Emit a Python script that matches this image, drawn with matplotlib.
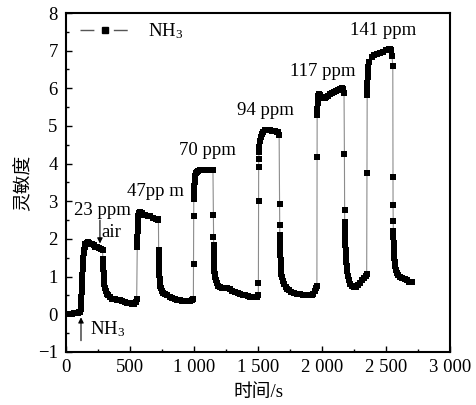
import numpy as np
import matplotlib
matplotlib.use("Agg")
import matplotlib.pyplot as plt
from matplotlib.lines import Line2D
from matplotlib.ticker import MultipleLocator, FixedLocator, FixedFormatter

plt.rcParams['font.family'] = ['Liberation Serif', 'Noto Sans CJK SC']
plt.rcParams['mathtext.fontset'] = 'custom'
plt.rcParams['mathtext.rm'] = 'Liberation Serif'
plt.rcParams['mathtext.default'] = 'regular'

# data: time (s) and sensitivity, one pair of lists per NH3 pulse
t1 = [0, 10, 20, 30, 40, 50, 60, 70, 80, 90, 100, 110,
      115, 117, 119, 121, 123, 125, 127, 129, 131, 134, 137, 140, 145, 150, 160, 170, 180, 190, 200,
      215, 230, 245, 260, 275, 285,
      289, 290, 291, 292, 293, 295, 297, 300, 305, 312, 320, 330, 344, 360, 380, 400,
      422, 440, 460, 480, 500, 513, 525, 535, 545, 552]
s1 = [0.0, 0.0, 0.01, 0.01, 0.02, 0.02, 0.03, 0.03, 0.04, 0.04, 0.05, 0.06,
      0.15, 0.3, 0.45, 0.6, 0.75, 0.9, 1.05, 1.2, 1.35, 1.5, 1.62, 1.72, 1.8, 1.86, 1.9, 1.92, 1.9, 1.88, 1.86,
      1.83, 1.8, 1.78, 1.76, 1.73, 1.7,
      1.46, 1.39, 1.3, 1.2, 1.1, 1.0, 0.9, 0.8, 0.7, 0.62, 0.55, 0.5, 0.46, 0.42, 0.4, 0.38,
      0.37, 0.35, 0.33, 0.31, 0.29, 0.28, 0.27, 0.28, 0.32, 0.42]

t2 = [556, 557, 558, 559, 560, 562, 565, 570, 578, 590, 605, 620, 640, 660, 680, 700, 715, 722,
      723, 724, 725, 726, 727, 728, 730, 732, 735, 738, 742, 750, 760, 775, 790, 810, 830, 850,
      870, 890, 910, 930, 950, 970, 985, 995]
s2 = [1.79, 1.92, 2.05, 2.2, 2.35, 2.5, 2.62, 2.7, 2.72, 2.68, 2.65, 2.63, 2.62, 2.6, 2.57, 2.54, 2.52, 2.5,
      1.72, 1.56, 1.45, 1.35, 1.25, 1.15, 1.05, 0.95, 0.85, 0.76, 0.7, 0.62, 0.57, 0.53, 0.5, 0.46, 0.43, 0.41,
      0.39, 0.37, 0.36, 0.35, 0.35, 0.36, 0.38, 0.4]

t3 = [996, 997, 998, 999, 1000, 1002, 1004, 1007, 1011, 1016, 1021, 1030, 1045, 1060, 1075, 1090,
      1110, 1130, 1148,
      1151, 1152, 1153, 1154, 1155, 1156, 1157, 1158, 1160, 1162, 1166, 1170, 1178, 1188, 1203, 1220,
      1240, 1260, 1281, 1300, 1320, 1340, 1359, 1380, 1400, 1420, 1440, 1463, 1480, 1495, 1502]
s3 = [1.34, 2.6, 3.05, 3.16, 3.28, 3.4, 3.5, 3.6, 3.68, 3.74, 3.78, 3.81, 3.83, 3.84, 3.84, 3.84,
      3.83, 3.83, 3.82,
      2.63, 2.05, 1.83, 1.7, 1.58, 1.46, 1.35, 1.25, 1.15, 1.08, 0.98, 0.9, 0.82, 0.76, 0.72, 0.71,
      0.7, 0.69, 0.67, 0.63, 0.6, 0.57, 0.55, 0.52, 0.5, 0.48, 0.47, 0.46, 0.46, 0.47, 0.5]

t4 = [1503, 1504, 1505, 1506, 1508, 1511, 1515, 1520, 1529, 1540, 1555, 1568, 1590, 1610, 1630,
      1650, 1659, 1665,
      1668, 1669, 1670, 1671, 1672, 1673, 1674, 1676, 1678, 1680, 1683, 1688, 1695, 1705, 1715,
      1724, 1740, 1760, 1780, 1802, 1830, 1855, 1880, 1905, 1920, 1932, 1945, 1955, 1960]
s4 = [0.83, 3.0, 3.91, 4.13, 4.3, 4.45, 4.6, 4.7, 4.79, 4.85, 4.89, 4.9, 4.9, 4.88, 4.87,
      4.85, 4.84, 4.75,
      2.94, 2.36, 2.1, 1.96, 1.82, 1.7, 1.58, 1.45, 1.32, 1.2, 1.08, 0.98, 0.88, 0.8, 0.73,
      0.68, 0.64, 0.6, 0.57, 0.55, 0.53, 0.51, 0.5, 0.5, 0.52, 0.55, 0.62, 0.7, 0.75]

t5 = [1961, 1962, 1963, 1965, 1968, 1972, 1978, 1985, 1995, 2005, 2020, 2035, 2050, 2065, 2080,
      2095, 2110, 2125, 2140, 2155, 2165, 2172,
      2175, 2176, 2177, 2178, 2179, 2180, 2182, 2184, 2186, 2189, 2192, 2196, 2202, 2210, 2219,
      2235, 2250, 2265, 2280, 2295, 2310, 2325, 2340, 2349]
s5 = [4.19, 5.3, 5.45, 5.6, 5.72, 5.8, 5.85, 5.83, 5.78, 5.75, 5.74, 5.77, 5.8, 5.84, 5.87,
      5.9, 5.93, 5.95, 5.97, 6.0, 5.99, 5.88,
      4.26, 2.78, 2.45, 2.3, 2.15, 2.0, 1.85, 1.7, 1.55, 1.4, 1.27, 1.15, 1.02, 0.9, 0.8,
      0.74, 0.72, 0.73, 0.77, 0.83, 0.9, 0.96, 1.03, 1.08]

t6 = [2351, 2352, 2353, 2354, 2356, 2358, 2361, 2370, 2388, 2410, 2430, 2453, 2475, 2500, 2520,
      2531, 2540, 2547,
      2553, 2554, 2555, 2556, 2557, 2558, 2559, 2560, 2562, 2564, 2567, 2571, 2576, 2583, 2592,
      2609, 2625, 2648, 2665, 2680, 2695, 2705]
s6 = [3.75, 5.81, 5.99, 6.15, 6.3, 6.45, 6.56, 6.7, 6.83, 6.88, 6.9, 6.93, 6.97, 7.01, 7.04,
      7.05, 7.02, 6.85,
      6.6, 3.64, 2.89, 2.47, 2.21, 2.05, 1.9, 1.77, 1.63, 1.5, 1.38, 1.27, 1.18, 1.1, 1.04,
      0.99, 0.97, 0.95, 0.9, 0.87, 0.86, 0.85]

conc_labels = ['23 ppm', '47pp m', '70 ppm', '94 ppm', '117 ppm', '141 ppm']
conc_x = [281, 695, 1101, 1555, 2004, 2480]
conc_y = [2.76, 3.26, 4.35, 5.42, 6.45, 7.53]

xticks = [0, 500, 1000, 1500, 2000, 2500, 3000]
xtick_labels = ['0', '500', '1 000', '1 500', '2 000', '2 500', '3 000']

t = np.concatenate([t1, t2, t3, t4, t5, t6])
s = np.concatenate([s1, s2, s3, s4, s5, s6])

fig = plt.figure(figsize=(4.76, 4.05), dpi=100)
ax = fig.add_axes([0.1387, 0.1309, 0.8067, 0.837])

ax.plot(t, s, color='#8c8c8c', lw=0.8, marker='s', ms=4.5, mfc='k', mec='k', mew=0)

# annotations
for lab, x, y in zip(conc_labels, conc_x, conc_y):
    ax.text(x, y, lab, ha='center', va='center', fontsize=13.5)

ax.annotate('', xy=(265, 1.88), xytext=(265, 2.5),
            arrowprops=dict(arrowstyle='-|>', lw=0.8, color='k', mutation_scale=8, shrinkA=0, shrinkB=0))
ax.text(280, 2.17, 'air', ha='left', va='center', fontsize=13.5)
ax.annotate('', xy=(117, -0.08), xytext=(117, -0.7),
            arrowprops=dict(arrowstyle='-|>', lw=0.8, color='k', mutation_scale=8, shrinkA=0, shrinkB=0))
ax.text(187, -0.4, 'NH$_{3}$', ha='left', va='center', fontsize=13.5)

ax.set_xlim(0, 3000)
ax.set_ylim(-1, 8)
ax.xaxis.set_major_locator(FixedLocator(xticks))
ax.xaxis.set_major_formatter(FixedFormatter(xtick_labels))
ax.xaxis.set_minor_locator(MultipleLocator(250))
ax.yaxis.set_major_locator(MultipleLocator(1))
ax.yaxis.set_minor_locator(MultipleLocator(0.5))
ax.tick_params(which='both', direction='in', top=False, right=False, labelsize=13.5, width=1)
ax.tick_params(which='major', length=4)
ax.tick_params(which='minor', length=2.5)
ax.tick_params(axis='y', pad=6)
ax.tick_params(axis='x', pad=5)
for sp in ax.spines.values():
    sp.set_linewidth(1.5)

ax.set_xlabel('时间/s', fontsize=13.5, labelpad=6)
ax.set_ylabel('灵敏度', fontsize=13.5, labelpad=4)

handle = Line2D([], [], color='#555555', lw=1, ls=(0, (10, 14)), marker='s', ms=5, mfc='k', mec='k')
ax.legend([handle], ['NH$_{3}$'], loc='upper left', bbox_to_anchor=(0.013, 1.003), frameon=False,
          fontsize=13.5, handlelength=2.6, handletextpad=1.0, borderaxespad=0.2, borderpad=0.3)

fig.savefig('out.png', dpi=100)
